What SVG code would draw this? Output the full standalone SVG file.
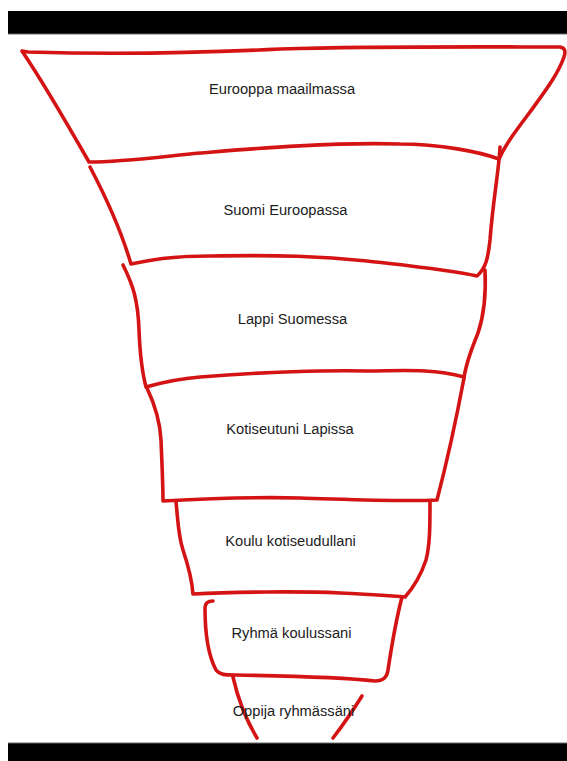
<svg xmlns="http://www.w3.org/2000/svg" width="567" height="761" viewBox="0 0 567 761">
<style>
.s{fill:none;stroke:#d41414;stroke-width:3.6;stroke-linecap:round;stroke-linejoin:round}
.t{font-family:"Liberation Sans",Arial,Helvetica,sans-serif;font-size:14.7px;fill:#1c1c1c;text-anchor:middle}
</style>
<rect x="0" y="0" width="567" height="761" fill="#ffffff"/>
<g id="bars">
<rect x="8" y="11" width="559" height="23" fill="#000000"/>
<rect x="8" y="33.5" width="559" height="1" fill="#6a6a6a"/>
<rect x="8" y="743" width="559" height="18" fill="#000000"/>
<rect x="8" y="742.5" width="559" height="1" fill="#6a6a6a"/>
</g>
<g id="connectors"></g>
<g id="level1">
<path class="s" d="M22,51 L28,52 C100,54 200,53 280,49 C380,46 500,47 560,47 Q567,48 564,57 C558,74 546,90 530,112 C515,132 505,145 499,159 C480,152 440,144 400,144 C330,142 250,149 200,153 C150,158 120,162 89,162 Q45,85 22,51"/>
<text class="t" x="282" y="94">Eurooppa maailmassa</text>
</g>
<g id="level2">
<path class="s" d="M90,167 Q118,220 131,264 C150,260 170,256 210,256 C280,255 320,256 367,261 C410,266 450,270 477,276 C486,268 488,258 490,240 C493,200 499,170 500,147"/>
<text class="t" x="285.5" y="215">Suomi Euroopassa</text>
</g>
<g id="level3">
<path class="s" d="M123,265 C133,285 138,300 139,330 C140,355 142,372 146,387 C160,383 175,379 200,377 C260,372 330,370 367,371 C400,371 430,368 464,377"/>
<path class="s" d="M485,270 C486,290 484,315 478,333 C472,348 466,362 464,378"/>
<text class="t" x="292.5" y="324">Lappi Suomessa</text>
</g>
<g id="level4">
<path class="s" d="M147,388 C155,405 160,420 161,440 C162,465 163,485 163,501 C200,499 260,497 300,498 C340,499 400,502 437,500 C450,450 458,410 464,378"/>
<text class="t" x="290" y="434">Kotiseutuni Lapissa</text>
</g>
<g id="level5">
<path class="s" d="M176,502 C178,520 178,535 183,550 C188,565 192,580 193,594 C230,592 300,591 340,593 C370,594 390,596 405,597 C413,588 421,575 426,560 C430,545 430,525 430,502"/>
<text class="t" x="290.5" y="546">Koulu kotiseudullani</text>
</g>
<g id="level6">
<path class="s" d="M213,601 C208,601 205,603 205,608 C205,630 208,655 216,670 C220,675 225,675 235,675 C290,676 340,677 375,681 C384,681 387,677 388,670 C391,650 396,620 402,597"/>
<text class="t" x="291.5" y="638">Ryhmä koulussani</text>
</g>
<g id="level7">
<path class="s" d="M233,677 C237,695 245,718 257,738"/>
<path class="s" d="M362,696 C352,712 343,725 333,738"/>
<text class="t" x="293.5" y="716">Oppija ryhmässäni</text>
</g>
</svg>
